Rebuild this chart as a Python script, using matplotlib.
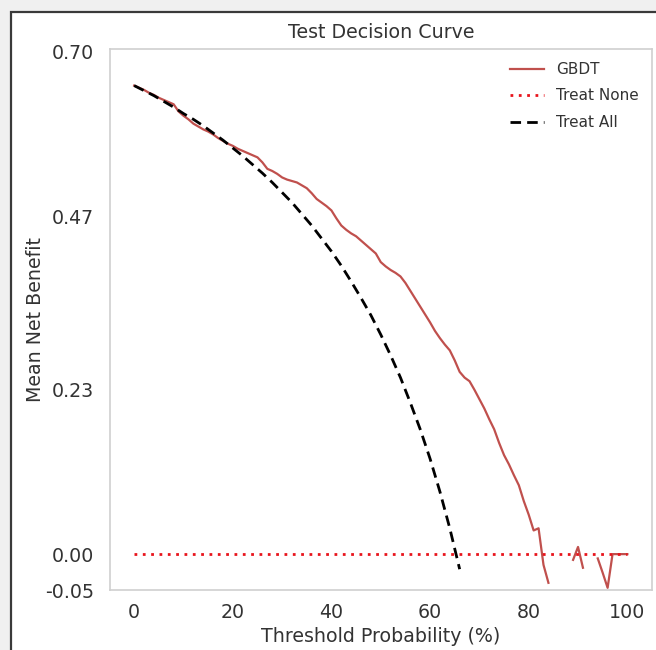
import numpy as np
import matplotlib
matplotlib.use("Agg")
import matplotlib.pyplot as plt
from matplotlib.patches import Rectangle

nan = np.nan

# Threshold probabilities (%) for the GBDT curve
thresholds = list(range(0, 101))
gbdt = [0.653, 0.650, 0.647, 0.643, 0.640, 0.636, 0.633, 0.630, 0.627, 0.617,
        0.611, 0.606, 0.600, 0.596, 0.592, 0.589, 0.585, 0.580, 0.576, 0.572,
        0.569, 0.565, 0.562, 0.559, 0.556, 0.553, 0.546, 0.537, 0.534, 0.530,
        0.525, 0.522, 0.520, 0.518, 0.514, 0.510, 0.503, 0.495, 0.490, 0.485,
        0.479, 0.468, 0.458, 0.452, 0.447, 0.443, 0.437, 0.431, 0.425, 0.419,
        0.407, 0.401, 0.396, 0.392, 0.387, 0.378, 0.367, 0.356, 0.345, 0.334,
        0.323, 0.311, 0.301, 0.292, 0.284, 0.270, 0.254, 0.246, 0.241, 0.229,
        0.216, 0.203, 0.188, 0.174, 0.155, 0.138, 0.125, 0.110, 0.096, 0.074,
        0.055, 0.033, 0.036, -0.015, -0.040, nan, nan, nan, nan, -0.008,
        0.010, -0.019, nan, nan, -0.006, -0.026, -0.047, 0.000, 0.000, 0.000,
        0.000]

# Treat All curve
treat_all_x = list(range(0, 67, 2))
treat_all = [0.653, 0.646, 0.639, 0.631, 0.623, 0.614, 0.606, 0.597, 0.587, 0.577,
             0.566, 0.555, 0.543, 0.531, 0.518, 0.504, 0.490, 0.474, 0.458, 0.440,
             0.422, 0.402, 0.380, 0.357, 0.333, 0.306, 0.277, 0.246, 0.211, 0.174,
             0.133, 0.087, 0.036, -0.021]

# Treat None
treat_none_x = [0, 100]
treat_none = [0.0, 0.0]

y_ticks = [0.70, 0.47, 0.23, 0.00, -0.05]
x_ticks = [0, 20, 40, 60, 80, 100]

W, H = 656, 650
fig = plt.figure(figsize=(W / 100, H / 100), dpi=100, facecolor="#f0f0f0")
fig.patches.append(Rectangle((11 / W, -0.2), 1.2, (H - 12) / H + 0.2,
                             transform=fig.transFigure, facecolor="white",
                             edgecolor="#3a3a3a", linewidth=1.6, zorder=-1))

ax = fig.add_axes([109.5 / W, 1 - 590 / H, (652 - 109.5) / W, (590 - 49) / H])
ax.set_facecolor("white")

ax.plot(thresholds, gbdt, color="#c0504d", lw=1.6, label="GBDT")
ax.plot(treat_none_x, treat_none, color="#e8141c", lw=2, ls=(0, (1, 2)),
        label="Treat None")
ax.plot(treat_all_x, treat_all, color="black", lw=2, ls=(0, (3.8, 2.2)),
        label="Treat All")

ax.set_xlim(-5, 105)
ax.set_ylim(-0.05, 0.704)
ax.set_xticks(x_ticks)
ax.set_yticks(y_ticks)
ax.set_yticklabels([f"{v:.2f}" for v in y_ticks])

for s in ax.spines.values():
    s.set_color("#cfcfcf")
    s.set_linewidth(1.2)

ax.tick_params(axis="both", length=0, labelsize=13.7, labelcolor="#333333")
ax.tick_params(axis="y", pad=11)
ax.tick_params(axis="x", pad=9)

ax.set_xlabel("Threshold Probability (%)", fontsize=13.7, color="#333333", labelpad=4)
ax.set_ylabel("Mean Net Benefit", fontsize=13.7, color="#333333", labelpad=0)
ax.set_title("Test Decision Curve", fontsize=13.7, color="#333333", pad=8)

leg = ax.legend(loc="upper right", frameon=False, fontsize=11, labelspacing=0.75,
                handlelength=2.2, borderaxespad=0.45)
for t in leg.get_texts():
    t.set_color("#333333")

fig.savefig("out.png", dpi=100, facecolor=fig.get_facecolor())
